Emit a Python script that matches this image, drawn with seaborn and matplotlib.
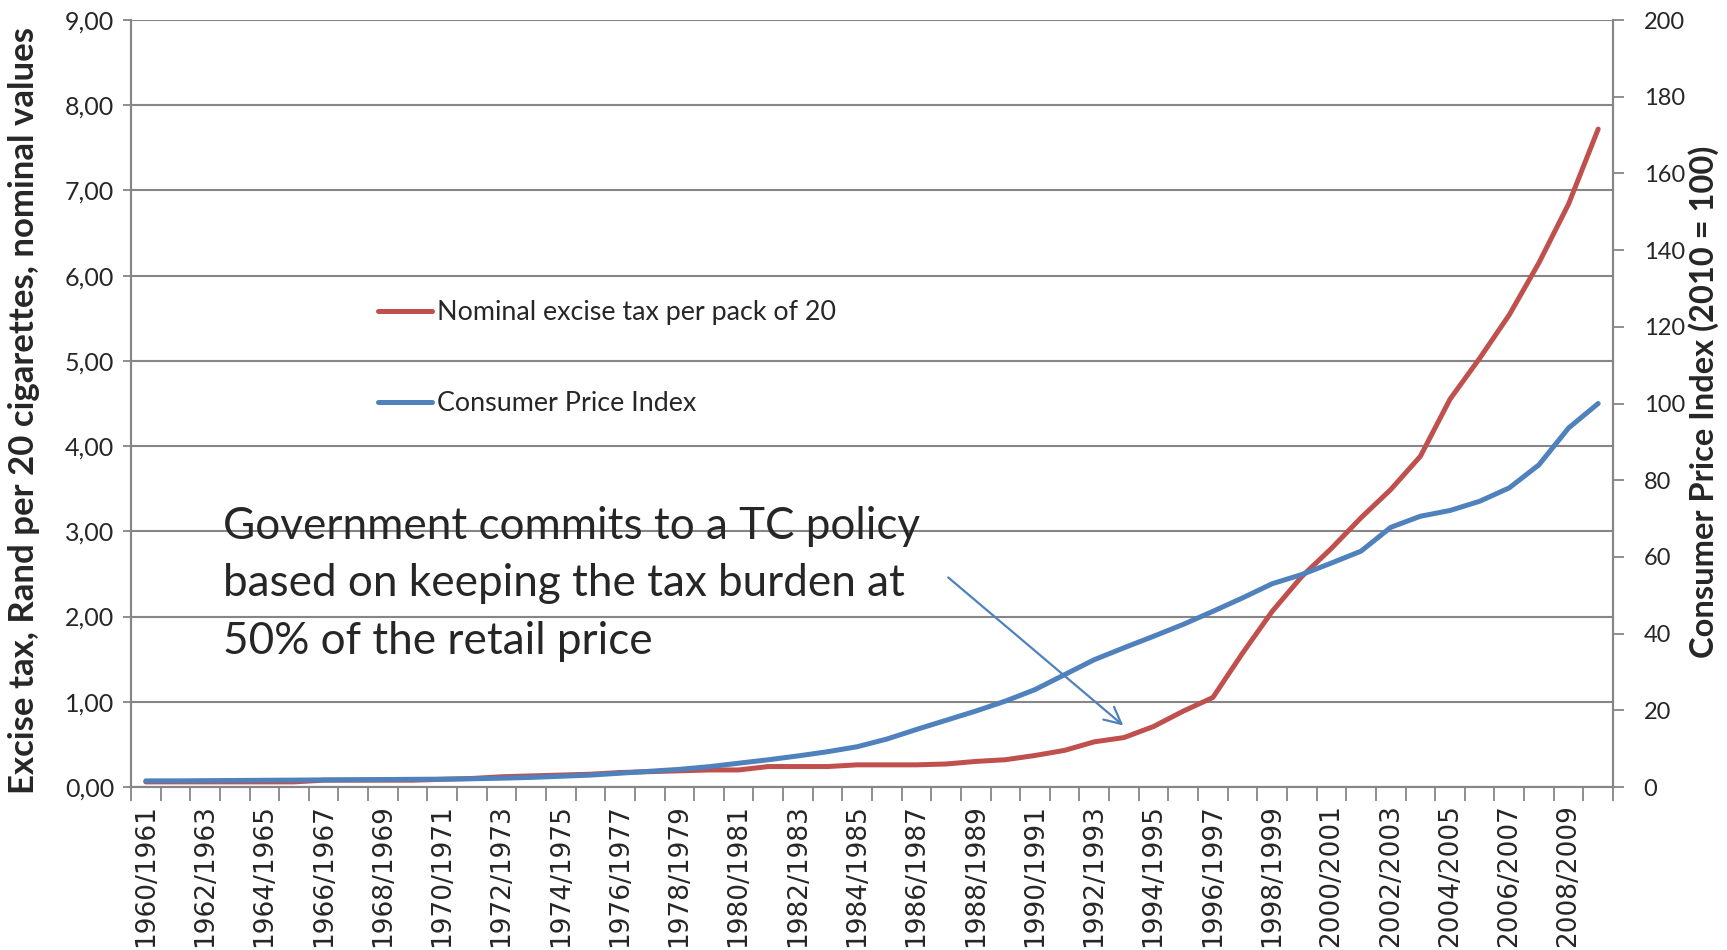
import matplotlib
matplotlib.use("Agg")
import matplotlib.pyplot as plt
import seaborn as sns
import pandas as pd
import numpy as np
from matplotlib.ticker import FixedLocator, FuncFormatter

# ---- data ----
years = [f"{y}/{y+1}" for y in range(1960, 2010)]
excise_tax = [0.06, 0.06, 0.06, 0.06, 0.06, 0.06, 0.08, 0.08, 0.08, 0.08,
              0.09, 0.10, 0.12, 0.13, 0.14, 0.15, 0.17, 0.18, 0.19, 0.20,
              0.20, 0.24, 0.24, 0.24, 0.26, 0.26, 0.26, 0.27, 0.30, 0.32,
              0.37, 0.43, 0.53, 0.58, 0.71, 0.89, 1.05, 1.57, 2.06, 2.47,
              2.80, 3.16, 3.49, 3.88, 4.55, 5.03, 5.54, 6.15, 6.84, 7.72]
cpi = [1.6, 1.6, 1.65, 1.7, 1.75, 1.8, 1.85, 1.9, 1.95, 2.0,
       2.05, 2.15, 2.3, 2.5, 2.8, 3.1, 3.6, 4.1, 4.6, 5.3,
       6.2, 7.1, 8.1, 9.2, 10.5, 12.5, 15.0, 17.4, 19.8, 22.4,
       25.4, 29.3, 33.2, 36.3, 39.3, 42.4, 45.8, 49.3, 53.0, 55.4,
       58.4, 61.5, 67.7, 70.6, 72.1, 74.5, 78.0, 84.0, 93.6, 100.0]
left_ticks = [0, 1, 2, 3, 4, 5, 6, 7, 8, 9]
right_ticks = [0, 20, 40, 60, 80, 100, 120, 140, 160, 180, 200]
label_tax = "Nominal excise tax per pack of 20"
label_cpi = "Consumer Price Index"
annotation = "Government commits to a TC policy\nbased on keeping the tax burden at\n50% of the retail price"

RED = "#C0504D"
BLUE = "#4F81BD"
GRID = "#868686"

sns.set_theme(style="white")
plt.rcParams['font.family'] = ['Lato', 'DejaVu Sans']

df = pd.DataFrame({"idx": np.arange(len(years)), "year": years,
                   "tax": excise_tax, "cpi": cpi})

fig = plt.figure(figsize=(17.27, 9.5), dpi=100)
ax = fig.add_axes([131/1727, 1-787/950, (1613-131)/1727, (787-20)/950])
ax2 = ax.twinx()

sns.lineplot(data=df, x="idx", y="tax", ax=ax, color=RED, linewidth=3.6,
             label=label_tax, legend=False)
sns.lineplot(data=df, x="idx", y="cpi", ax=ax2, color=BLUE, linewidth=3.6,
             label=label_cpi, legend=False)

n = len(years)
ax.set_xlim(-0.5, n - 0.5)
ax.set_ylim(0, 9)
ax2.set_ylim(0, 200)

# left axis
ax.yaxis.set_major_locator(FixedLocator(left_ticks))
ax.yaxis.set_major_formatter(FuncFormatter(lambda v, p: f"{v:.2f}".replace(".", ",")))
ax.grid(axis="y", color=GRID, linewidth=1.5)
ax.grid(axis="x", visible=False)
ax.tick_params(axis="y", which="major", length=6, width=1.3, color=GRID,
               labelsize=18, pad=6, left=True)

# x axis
ax.set_xticks(np.arange(0, n, 2))
ax.set_xticklabels([years[i] for i in range(0, n, 2)], rotation=90,
                   fontsize=19, family="DejaVu Sans")
ax.set_xticks(np.arange(-0.5, n, 1), minor=True)
ax.tick_params(axis="x", which="major", length=0, pad=12)
ax.tick_params(axis="x", which="minor", length=10, width=1.3, color=GRID,
               bottom=True)

# right axis
ax2.yaxis.set_major_locator(FixedLocator(right_ticks))
ax2.tick_params(axis="y", length=8, width=1.3, color=GRID, labelsize=17,
                pad=14, right=True)
ax2.grid(False)

for a in (ax, ax2):
    for s in a.spines.values():
        s.set_visible(False)
    for s in ("left", "bottom", "right"):
        a.spines[s].set_visible(True)
        a.spines[s].set_color(GRID)
        a.spines[s].set_linewidth(1.5)

ax.set_xlabel("")
ax.set_ylabel("")
ax2.set_ylabel("")
fig.text(24/1727, 1-410/950, "Excise tax, Rand per 20 cigarettes, nominal values",
         fontsize=25, fontweight="bold", rotation=90, ha="center", va="center")
fig.text(1704/1727, 1-402/950, "Consumer Price Index (2010 = 100)",
         fontsize=23.5, fontweight="bold", rotation=90, ha="center", va="center")

# legend
h1, l1 = ax.get_legend_handles_labels()
h2, l2 = ax2.get_legend_handles_labels()
leg = ax.legend(h1 + h2, l1 + l2, loc="upper left",
                bbox_to_anchor=((378-131)/1482, (787-300)/767),
                frameon=False, fontsize=19.4, handlelength=2.0,
                handletextpad=0.2, labelspacing=2.45, borderaxespad=0,
                borderpad=0)

# annotation
ax.text(2.6, 3.3, annotation, fontsize=31.7, va="top", ha="left",
        linespacing=1.5)
ax.annotate("", xy=(33.05, 0.70), xytext=(27.0, 2.48),
            arrowprops=dict(arrowstyle="->", color=BLUE, lw=1.6,
                            mutation_scale=30))

fig.savefig("out.png", dpi=100)
